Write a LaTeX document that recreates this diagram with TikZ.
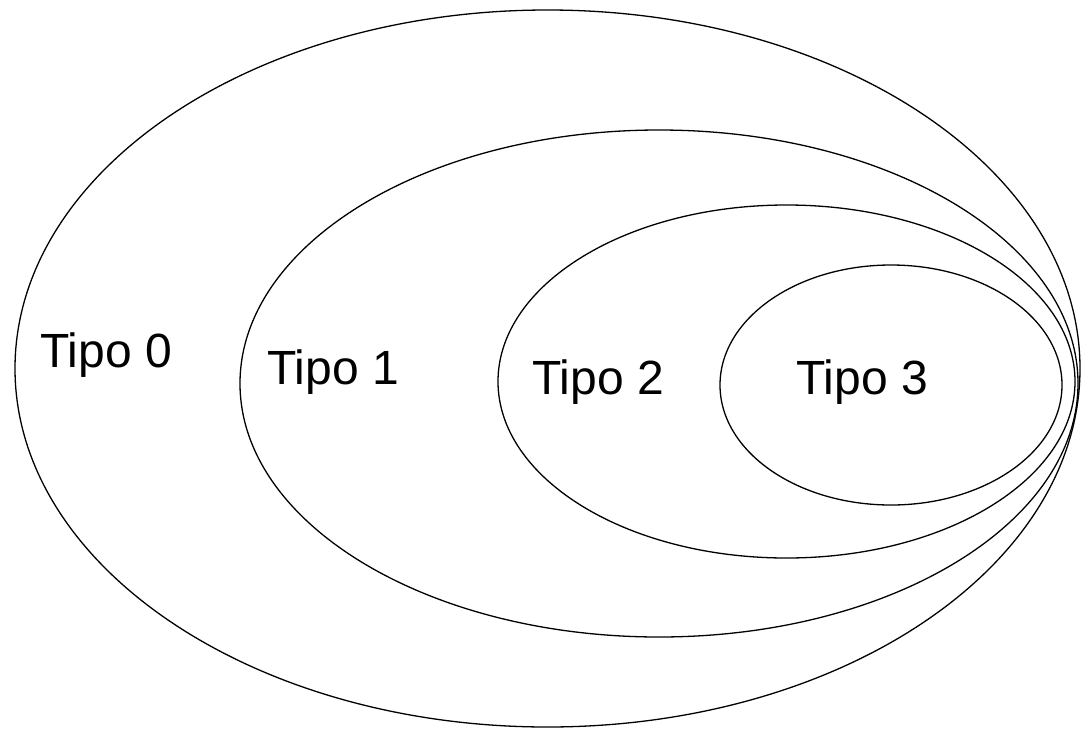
\documentclass[tikz,border=0pt]{standalone}
\usepackage{fontspec}
\setmainfont{Liberation Sans}
\begin{document}
\begin{tikzpicture}[x=1pt,y=-1pt,
  set/.style={draw=black,line width=1.3pt},
  lbl/.style={font=\fontsize{48}{56}\selectfont,inner sep=0pt}]
\useasboundingbox (0,0) rectangle (1082,729);
\draw[set] (547.5,368.5) ellipse [x radius=532.5, y radius=358.5];
\draw[set] (659,383.5) ellipse [x radius=419, y radius=253.5];
\draw[set] (786.5,381.5) ellipse [x radius=288.5, y radius=176.5];
\draw[set] (891,385) ellipse [x radius=171, y radius=120];
\node[lbl] (t0) at (106,355) {Tipo 0};
\node[lbl] (t1) at (333,372) {Tipo 1};
\node[lbl] (t2) at (598,382) {Tipo 2};
\node[lbl] (t3) at (862,382) {Tipo 3};
\end{tikzpicture}
\end{document}
